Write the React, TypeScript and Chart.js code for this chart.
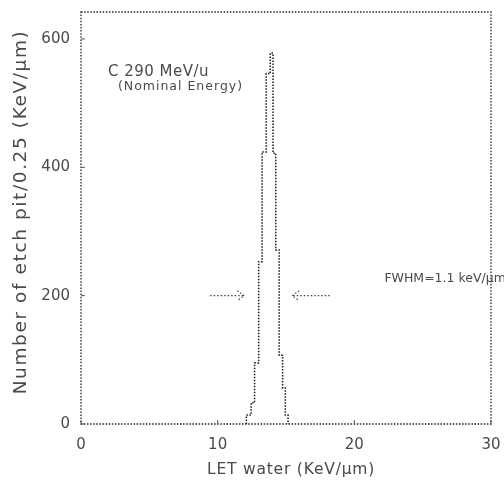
import React, { useEffect, useRef } from "react";
import { Chart, registerables } from "chart.js";

Chart.register(...registerables);

// Histogram bin edges (keV/µm) and counts per 0.25 keV/µm bin
const binEdges = [12.1, 12.45, 12.7, 13.0, 13.25, 13.55, 13.85, 14.05, 14.25, 14.5, 14.75, 14.95, 15.15];
const binCounts = [14, 33, 95, 253, 424, 546, 578, 422, 271, 107, 56, 14];

const xTicks = [0, 10, 20, 30];
const yTicks = [0, 200, 400, 600];

const xTitle = "LET water (KeV/\u03bcm)";
const yTitle = "Number of etch pit/0.25 (KeV/\u03bcm)";
const label1 = "C 290 MeV/u";
const label2 = "(Nominal Energy)";
const fwhmLabel = "FWHM=1.1 keV/\u03bcm";

const FONT = "'DejaVu Sans', sans-serif";
const INK = "#4a4a4a";

const overlay = {
  id: "overlay",
  afterDatasetsDraw(chart: any) {
    const { ctx, chartArea: a, scales } = chart;
    const xs = scales.x;
    const ys = scales.y;
    ctx.save();
    // dotted frame
    ctx.strokeStyle = "#222";
    ctx.lineWidth = 1.3;
    ctx.setLineDash([1.5, 1.6]);
    ctx.strokeRect(a.left, a.top, a.right - a.left, a.bottom - a.top);
    // inward ticks
    ctx.setLineDash([]);
    ctx.lineWidth = 1;
    ctx.strokeStyle = "#555";
    yTicks.forEach((v) => {
      const y = ys.getPixelForValue(v);
      ctx.beginPath();
      ctx.moveTo(a.left, y);
      ctx.lineTo(a.left + 4, y);
      ctx.stroke();
    });
    xTicks.forEach((v) => {
      const x = xs.getPixelForValue(v);
      ctx.beginPath();
      ctx.moveTo(x, a.bottom);
      ctx.lineTo(x, a.bottom - 4);
      ctx.stroke();
    });

    // texts
    ctx.fillStyle = INK;
    ctx.textBaseline = "middle";
    ctx.textAlign = "left";
    ctx.letterSpacing = "0.5px";
    ctx.font = `15px ${FONT}`;
    ctx.fillText(label1, xs.getPixelForValue(1.97), ys.getPixelForValue(548));
    ctx.letterSpacing = "1px";
    ctx.font = `12.5px ${FONT}`;
    ctx.fillText(label2, xs.getPixelForValue(2.7), ys.getPixelForValue(525));
    ctx.letterSpacing = "0px";
    ctx.font = `12.5px ${FONT}`;
    ctx.fillText(fwhmLabel, xs.getPixelForValue(22.2), ys.getPixelForValue(227));

    // axis titles
    ctx.textAlign = "center";
    ctx.letterSpacing = "0.8px";
    ctx.font = `15.5px ${FONT}`;
    ctx.fillText(xTitle, 291, 470);
    ctx.save();
    ctx.translate(21, 212);
    ctx.rotate(-Math.PI / 2);
    ctx.letterSpacing = "1.6px";
    ctx.font = `18.5px ${FONT}`;
    ctx.fillText(yTitle, 0, 0);
    ctx.restore();
    ctx.letterSpacing = "0px";

    // arrows
    const drawArrow = (x0: number, x1: number, yv: number) => {
      const px0 = xs.getPixelForValue(x0);
      const px1 = xs.getPixelForValue(x1);
      const py = ys.getPixelForValue(yv);
      const dir = Math.sign(px1 - px0);
      ctx.strokeStyle = "#444";
      ctx.lineWidth = 1.2;
      ctx.setLineDash([1.5, 2]);
      ctx.beginPath();
      ctx.moveTo(px0, py);
      ctx.lineTo(px1, py);
      ctx.stroke();
      ctx.beginPath();
      ctx.moveTo(px1 - dir * 7, py - 5);
      ctx.lineTo(px1, py);
      ctx.lineTo(px1 - dir * 7, py + 5);
      ctx.stroke();
    };
    drawArrow(9.45, 11.95, 200);
    drawArrow(18.2, 15.45, 200);
    ctx.restore();
  },
};

export default function App() {
  const ref = useRef<HTMLCanvasElement | null>(null);
  useEffect(() => {
    document.body.style.margin = "0";
    const pts: { x: number; y: number }[] = [{ x: binEdges[0], y: 0 }];
    binCounts.forEach((c, i) => pts.push({ x: binEdges[i], y: c }));
    pts.push({ x: binEdges[binEdges.length - 1], y: 0 });

    const chart = new Chart(ref.current as HTMLCanvasElement, {
      type: "line",
      data: {
        datasets: [
          {
            data: pts,
            stepped: "before",
            borderColor: "#1a1a1a",
            borderWidth: 1.5,
            borderDash: [1.5, 1.5],
            pointRadius: 0,
            fill: false,
          },
        ],
      },
      options: {
        animation: false,
        responsive: false,
        layout: { padding: { top: 12, right: 13, left: 0, bottom: 0 } },
        plugins: { legend: { display: false }, tooltip: { enabled: false } },
        scales: {
          x: {
            type: "linear",
            min: 0,
            max: 30,
            afterFit: (s: any) => {
              s.height = 64;
              s.paddingLeft = 0;
              s.paddingRight = 0;
            },
            afterBuildTicks: (s: any) => {
              s.ticks = xTicks.map((v) => ({ value: v }));
            },
            grid: { display: false, drawTicks: false },
            border: { display: false },
            ticks: { color: INK, font: { family: FONT, size: 15 }, padding: 12, maxRotation: 0 },
          },
          y: {
            type: "linear",
            min: 0,
            max: 642,
            afterFit: (s: any) => {
              s.width = 81;
              s.paddingTop = 0;
              s.paddingBottom = 0;
            },
            afterBuildTicks: (s: any) => {
              s.ticks = yTicks.map((v) => ({ value: v }));
            },
            grid: { display: false, drawTicks: false },
            border: { display: false },
            ticks: { color: INK, font: { family: FONT, size: 15 }, padding: 11 },
          },
        },
      },
      plugins: [overlay],
    });
    return () => chart.destroy();
  }, []);
  return <canvas ref={ref} width={504} height={488} style={{ display: "block" }} />;
}
